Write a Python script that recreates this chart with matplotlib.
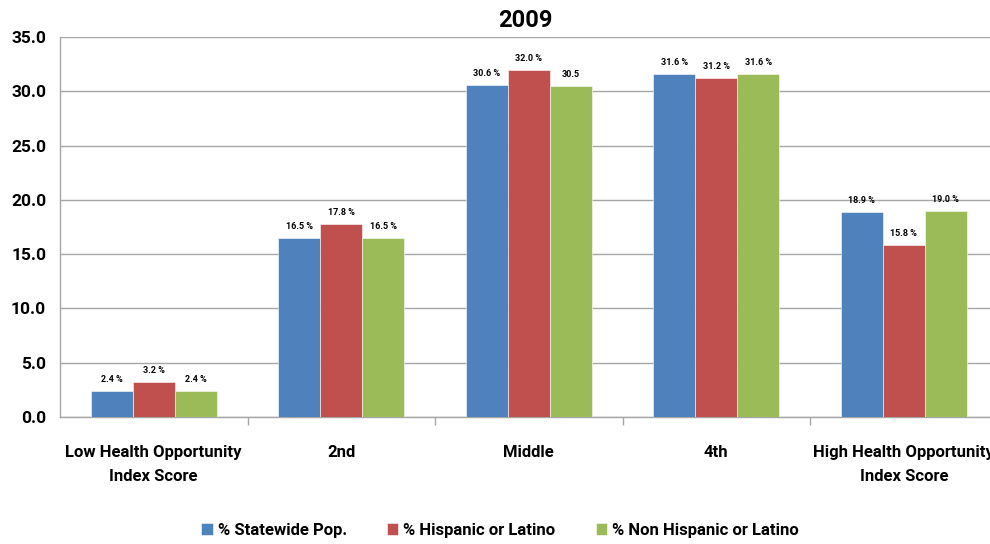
import matplotlib
matplotlib.use("Agg")
import matplotlib.pyplot as plt
import numpy as np

categories = ["Low Health Opportunity\nIndex Score", "2nd", "Middle", "4th", "High Health Opportunity\nIndex Score"]
series_names = ["% Statewide Pop.", "% Hispanic or Latino", "% Non Hispanic or Latino"]
statewide = [2.4, 16.5, 30.6, 31.6, 18.9]
hispanic = [3.2, 17.8, 32.0, 31.2, 15.8]
non_hispanic = [2.4, 16.5, 30.5, 31.6, 19.0]
labels_statewide = ["2.4 %", "16.5 %", "30.6 %", "31.6 %", "18.9 %"]
labels_hispanic = ["3.2 %", "17.8 %", "32.0 %", "31.2 %", "15.8 %"]
labels_non_hispanic = ["2.4 %", "16.5 %", "30.5", "31.6 %", "19.0 %"]
yticks = [0, 5, 10, 15, 20, 25, 30, 35]
title = "2009"

colors = ["#4F81BD", "#C0504D", "#9BBB59"]
plt.rcParams['font.family'] = ["Roboto", "DejaVu Sans"]

fig = plt.figure(figsize=(9.9, 5.44), dpi=100)
ax = fig.add_axes([0.0606, 0.2335, 0.947, 0.6985])

x = np.arange(len(categories))
w = 0.224
data = [statewide, hispanic, non_hispanic]
labs = [labels_statewide, labels_hispanic, labels_non_hispanic]
for i, (vals, lab) in enumerate(zip(data, labs)):
    xs = x + (i - 1) * w
    ax.bar(xs, vals, width=w, color=colors[i], label=series_names[i], zorder=3,
           edgecolor="white", linewidth=0.4)
    for xi, v, t in zip(xs, vals, lab):
        ax.annotate(t, (xi, v), xytext=(0, 5), textcoords="offset points",
                    ha="center", va="bottom", fontsize=6.5, fontweight="bold")

ax.set_xlim(-0.5, len(categories) - 0.5)
ax.set_ylim(0, 35)
ax.set_yticks(yticks)
ax.set_yticklabels([f"{v:.1f}" for v in yticks], fontsize=12.5, fontweight="bold")
ax.yaxis.grid(True, color="#A6A6A6", linewidth=1.0, zorder=0)
ax.set_axisbelow(True)
ax.tick_params(axis="y", length=0, pad=10)

ax.set_xticks(x)
ax.set_xticklabels(categories, fontsize=12, fontweight="bold", linespacing=1.75)
ax.tick_params(axis="x", length=0, pad=20)
ax.set_xticks(np.arange(0.5, len(categories) - 1, 1.0), minor=True)
ax.tick_params(axis="x", which="minor", length=6, color="#A6A6A6", width=1)

for s in ["top", "right"]:
    ax.spines[s].set_visible(False)
ax.spines["left"].set_color("#A6A6A6")
ax.spines["bottom"].set_color("#A6A6A6")
ax.spines["left"].set_linewidth(1.0)
ax.spines["bottom"].set_linewidth(1.0)

fig.text(0.531, 0.962, title, ha="center", va="center", fontsize=17, fontweight="bold")

handles, lbls = ax.get_legend_handles_labels()
fig.legend(handles, lbls, loc="center", bbox_to_anchor=(0.505, 0.025), ncol=3, frameon=False,
           prop={"size": 12, "weight": "bold"}, handlelength=0.7, handleheight=0.7,
           handletextpad=0.3, columnspacing=2.4)

fig.savefig("out.png", dpi=100)
